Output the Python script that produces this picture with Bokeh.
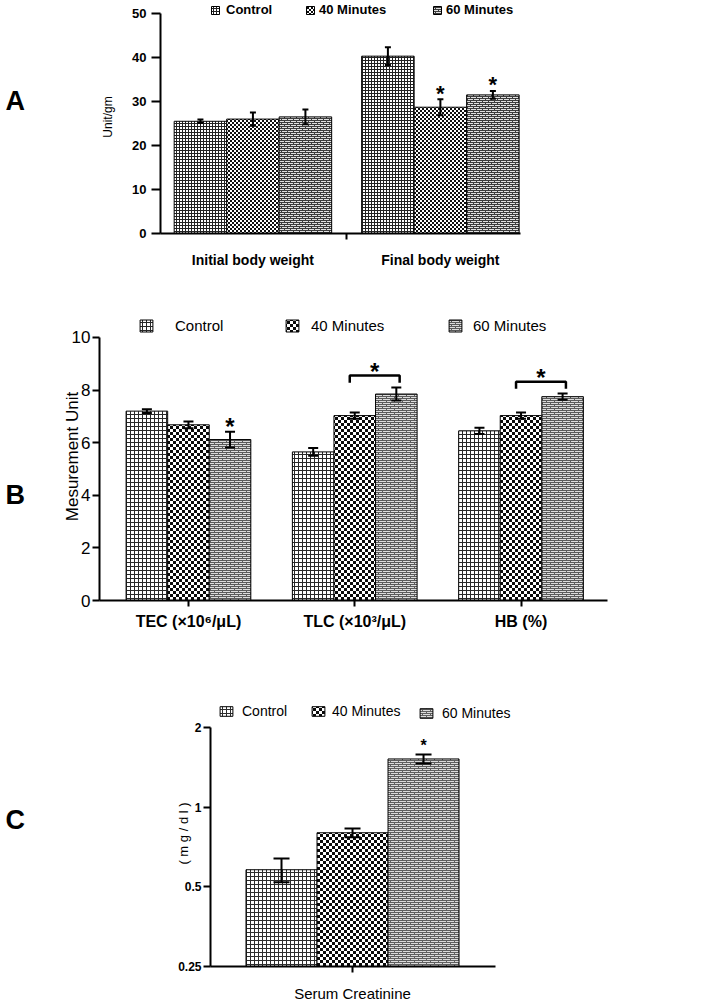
import base64, struct, zlib
from bokeh.plotting import figure
from bokeh.layouts import row
from bokeh.models import (ColumnDataSource, Whisker, Legend, LegendItem,
                          FixedTicker, ImageURLTexture, Range1d)
from bokeh.core.properties import value
from bokeh.embed import file_html
from bokeh.resources import INLINE

FONT = "Liberation Sans"
series = ["Control", "40 Minutes", "60 Minutes"]

# ---------------- data ----------------
# Panel A (Unit/gm)
a_groups = ["Initial body weight", "Final body weight"]
a_control = [25.5, 40.3]
a_control_err = [0.4, 2.0]
a_40 = [26.0, 28.7]
a_40_err = [1.5, 1.8]
a_60 = [26.5, 31.5]
a_60_err = [1.7, 0.9]
a_star_40 = [False, True]
a_star_60 = [False, True]
a_ticks = [0, 10, 20, 30, 40, 50]

# Panel B (Mesurement Unit)
b_groups = ["TEC (\u00d710\u2076/\u03bcL)", "TLC (\u00d710\u00b3/\u03bcL)", "HB (%)"]
b_control = [7.2, 5.65, 6.45]
b_control_err = [0.07, 0.15, 0.12]
b_40 = [6.68, 7.03, 7.03]
b_40_err = [0.13, 0.12, 0.12]
b_60 = [6.12, 7.85, 7.75]
b_60_err = [0.3, 0.25, 0.12]
b_star_60 = [True, False, False]
b_bracket = [False, True, True]
b_ticks = [0, 2, 4, 6, 8, 10]

# Panel C (mg/dl)
c_groups = ["Serum Creatinine"]
c_control = [0.58]
c_control_err = [0.06]
c_40 = [0.80]
c_40_err = [0.03]
c_60 = [1.52]
c_60_err = [0.06]
c_star_60 = [True]
c_ticks = [0.25, 0.5, 1, 2]


# ---------------- helpers ----------------
def texture(rows):
    h = len(rows)
    w = len(rows[0])
    raw = b"".join(b"\x00" + bytes(r) for r in rows)

    def chunk(tag, data):
        return (struct.pack(">I", len(data)) + tag + data +
                struct.pack(">I", zlib.crc32(tag + data) & 0xffffffff))

    png = (b"\x89PNG\r\n\x1a\n" +
           chunk(b"IHDR", struct.pack(">IIBBBBB", w, h, 8, 0, 0, 0, 0)) +
           chunk(b"IDAT", zlib.compress(raw)) + chunk(b"IEND", b""))
    return ImageURLTexture(url="data:image/png;base64," + base64.b64encode(png).decode(),
                           repetition="repeat")


def grid_tile(n, dark, light=255):
    return [[dark] * n] + [[dark] + [light] * (n - 1) for _ in range(n - 1)]


def checker_tile(c, dark=15, light=255):
    return [[dark if ((i // c) + (j // c)) % 2 == 0 else light for j in range(2 * c)]
            for i in range(2 * c)]


def brick_tile(w, dark, light):
    r0 = [dark] * w
    r1 = [dark] + [light] * (w - 1)
    r3 = [light] * w
    r3[w // 2] = dark
    return [r0, r1, r0, r3]


def add_bars(p, xs, tops, errs, bottom, width, tex, key, head, lw):
    src = ColumnDataSource(dict(
        x=xs, top=tops,
        upper=[t + e for t, e in zip(tops, errs)],
        lower=[t - e for t, e in zip(tops, errs)]))
    r = p.vbar(x="x", top="top", bottom=bottom, width=width, source=src,
               fill_color="white", line_color="black", line_width=1,
               hatch_pattern=value(key), hatch_extra={key: tex})
    w = Whisker(base="x", upper="upper", lower="lower", source=src, level="overlay",
                line_color="black", line_width=lw)
    for hd in (w.upper_head, w.lower_head):
        hd.size = head
        hd.line_width = lw
        hd.line_color = "black"
    p.add_layout(w)
    return r


def add_legend(p, r, label, vx, vy, gw, gh, lh, standoff, size, style):
    leg = Legend(items=[LegendItem(label=label, renderers=[r])], location=(vx, vy),
                 padding=0, margin=0, spacing=0, border_line_color=None,
                 background_fill_alpha=0, glyph_width=gw, glyph_height=gh,
                 label_standoff=standoff, label_height=lh, label_text_font=FONT,
                 label_text_font_size=size, label_text_font_style=style,
                 label_text_color="black", label_text_baseline="middle")
    p.add_layout(leg)


def style_fig(p):
    p.xgrid.visible = False
    p.ygrid.visible = False
    p.outline_line_color = None
    p.background_fill_color = "white"
    p.border_fill_color = "white"


def style_axes(p):
    for ax in (p.xaxis, p.yaxis):
        ax.axis_line_width = 2
        ax.axis_line_color = "black"
        ax.major_tick_line_width = 2
        ax.minor_tick_line_width = 2
        ax.major_tick_in = 0
        ax.minor_tick_in = 0
        ax.major_label_text_color = "black"
        ax.major_label_text_font = FONT
        ax.axis_label_text_font = FONT
        ax.axis_label_text_color = "black"


LW = 38  # width of the letter strip
MAIN_W = 662


def letter_fig(main, txt, y, log=False):
    lf = figure(width=LW, height=main.height, x_range=Range1d(0, LW), y_range=main.y_range,
                y_axis_type="log" if log else "linear",
                x_axis_location=None, y_axis_location=None,
                output_backend="svg", toolbar_location=None,
                min_border_left=0, min_border_right=0,
                min_border_top=main.min_border_top, min_border_bottom=main.min_border_bottom)
    style_fig(lf)
    lf.text(x=[5], y=[y], text=[txt], text_font=value(FONT), text_font_style="bold",
            text_font_size="27px", text_align="left", text_baseline="middle",
            text_color="black")
    return lf


# ---------------- Panel A ----------------
pA = figure(width=MAIN_W, height=270, x_range=Range1d(-0.493, 1.55),
            y_range=Range1d(0, 52.95), output_backend="svg", toolbar_location=None,
            min_border_left=122, min_border_right=157, min_border_top=0, min_border_bottom=37)
style_fig(pA)
style_axes(pA)
wA = 0.28
offs = [-wA, 0.0, wA]
texA = [texture(grid_tile(3, 35)), texture(checker_tile(2, 15)), texture(brick_tile(6, 60, 225))]
valsA = [(a_control, a_control_err), (a_40, a_40_err), (a_60, a_60_err)]
rA = []
for k, ((m, e), t, o) in enumerate(zip(valsA, texA, offs)):
    xs = [i + o for i in range(len(a_groups))]
    rA.append(add_bars(pA, xs, m, e, 0, wA, t, "a%d" % k, 6, 2))
for flags, (m, e), o in ((a_star_40, valsA[1], offs[1]), (a_star_60, valsA[2], offs[2])):
    sx = [i + o for i, f in enumerate(flags) if f]
    sy = [m[i] + e[i] + 1.4 for i, f in enumerate(flags) if f]
    pA.text(x=sx, y=sy, text=["*"] * len(sx), text_font=value(FONT), text_font_style="bold",
            text_font_size="22px", text_align="center", text_baseline="middle", text_color="black")
pA.yaxis.ticker = FixedTicker(ticks=a_ticks)
pA.yaxis.bounds = (a_ticks[0], a_ticks[-1])
pA.yaxis.axis_label = "Unit/gm"
pA.yaxis.axis_label_text_font_style = "normal"
pA.yaxis.axis_label_text_font_size = "12px"
pA.yaxis.axis_label_standoff = 14
pA.yaxis.major_label_text_font_style = "bold"
pA.yaxis.major_label_text_font_size = "13px"
pA.yaxis.major_label_standoff = 5
pA.yaxis.major_tick_out = 9
pA.yaxis.minor_tick_line_color = None
pA.xaxis.ticker = FixedTicker(ticks=list(range(len(a_groups))), minor_ticks=[0.5])
pA.xaxis.bounds = (-0.493, 1.427)
pA.xaxis.major_label_overrides = {i: g for i, g in enumerate(a_groups)}
pA.xaxis.major_tick_out = 0
pA.xaxis.minor_tick_out = 6
pA.xaxis.major_label_standoff = 12
pA.xaxis.major_label_text_font_style = "bold"
pA.xaxis.major_label_text_font_size = "14px"
add_legend(pA, rA[0], series[0], 50, 216, 10, 10, 14, 6, "13px", "bold")
add_legend(pA, rA[1], series[1], 145, 216, 10, 10, 14, 4, "13px", "bold")
add_legend(pA, rA[2], series[2], 272, 216, 10, 10, 14, 4, "13px", "bold")
lA = letter_fig(pA, "A", 30.0)

# ---------------- Panel B ----------------
pB = figure(width=MAIN_W, height=366, x_range=Range1d(-0.535, 2.52), y_range=Range1d(0, 10.95),
            output_backend="svg", toolbar_location=None,
            min_border_left=61, min_border_right=93, min_border_top=42, min_border_bottom=36)
style_fig(pB)
style_axes(pB)
wB = 0.25
offsB = [-wB, 0.0, wB]
texB = [texture(grid_tile(4, 40)), texture(checker_tile(3, 10)), texture(brick_tile(8, 90, 220))]
valsB = [(b_control, b_control_err), (b_40, b_40_err), (b_60, b_60_err)]
rB = []
for k, ((m, e), t, o) in enumerate(zip(valsB, texB, offsB)):
    xs = [i + o for i in range(len(b_groups))]
    rB.append(add_bars(pB, xs, m, e, 0, wB, t, "b%d" % k, 10, 2))
sx = [i + offsB[2] for i, f in enumerate(b_star_60) if f]
sy = [b_60[i] + b_60_err[i] + 0.2 for i, f in enumerate(b_star_60) if f]
bxs, bys = [], []
for i, f in enumerate(b_bracket):
    if f:
        yb = max(b_40[i] + b_40_err[i], b_60[i] + b_60_err[i]) + 0.45
        x0 = i + offsB[1] - 0.03
        x1 = i + offsB[2] + 0.02
        bxs.append([x0, x0, x1, x1])
        bys.append([yb - 0.27, yb, yb, yb - 0.27])
        sx.append((x0 + x1) / 2)
        sy.append(yb + 0.15)
pB.multi_line(xs=bxs, ys=bys, line_color="black", line_width=2.5)
pB.text(x=sx, y=sy, text=["*"] * len(sx), text_font=value(FONT), text_font_style="bold",
        text_font_size="24px", text_align="center", text_baseline="middle", text_color="black")
pB.yaxis.ticker = FixedTicker(ticks=b_ticks)
pB.yaxis.bounds = (b_ticks[0], b_ticks[-1])
pB.yaxis.axis_label = "Mesurement Unit"
pB.yaxis.axis_label_text_font_style = "normal"
pB.yaxis.axis_label_text_font_size = "17px"
pB.yaxis.axis_label_standoff = -13
pB.yaxis.major_label_text_font_size = "17px"
pB.yaxis.major_label_standoff = 2
pB.yaxis.major_tick_out = 7
pB.yaxis.minor_tick_line_color = None
pB.xaxis.ticker = FixedTicker(ticks=list(range(len(b_groups))))
pB.xaxis.major_label_overrides = {i: g for i, g in enumerate(b_groups)}
pB.xaxis.major_tick_out = 6
pB.xaxis.minor_tick_line_color = None
pB.xaxis.major_label_standoff = 6
pB.xaxis.major_label_text_font_style = "bold"
pB.xaxis.major_label_text_font_size = "16px"
add_legend(pB, rB[0], series[0], 39, 266, 16, 15, 18, 21, "15px", "normal")
add_legend(pB, rB[1], series[1], 185, 266, 16, 15, 18, 11, "15px", "normal")
add_legend(pB, rB[2], series[2], 348, 266, 16, 15, 18, 10, "15px", "normal")
lB = letter_fig(pB, "B", 4.03)

# ---------------- Panel C ----------------
pC = figure(width=MAIN_W, height=368, x_range=Range1d(-2.0, 2.45), y_range=Range1d(0.25, 2.527),
            y_axis_type="log", output_backend="svg", toolbar_location=None,
            min_border_left=172, min_border_right=174, min_border_top=64, min_border_bottom=36)
style_fig(pC)
style_axes(pC)
wC = 1.0
offsC = [-wC, 0.0, wC]
texC = [texture(grid_tile(4, 45)), texture(checker_tile(3, 10)), texture(brick_tile(8, 95, 220))]
valsC = [(c_control, c_control_err), (c_40, c_40_err), (c_60, c_60_err)]
rC = []
for k, ((m, e), t, o) in enumerate(zip(valsC, texC, offsC)):
    xs = [i + o for i in range(len(c_groups))]
    rC.append(add_bars(pC, xs, m, e, c_ticks[0], wC, t, "c%d" % k, 16, 2))
sx = [i + offsC[2] for i, f in enumerate(c_star_60) if f]
sy = [(c_60[i] + c_60_err[i]) * 1.08 for i, f in enumerate(c_star_60) if f]
pC.text(x=sx, y=sy, text=["*"] * len(sx), text_font=value(FONT), text_font_style="bold",
        text_font_size="16px", text_align="center", text_baseline="middle", text_color="black")
pC.yaxis.ticker = FixedTicker(ticks=c_ticks)
pC.yaxis.bounds = (c_ticks[0], c_ticks[-1])
pC.yaxis.major_label_overrides = {t: ("%g" % t) for t in c_ticks}
pC.yaxis.major_label_text_font_style = "bold"
pC.yaxis.major_label_text_font_size = "12px"
pC.yaxis.major_label_standoff = 2
pC.yaxis.major_tick_out = 7
pC.yaxis.minor_tick_line_color = None
pC.yaxis.axis_label = "( m g / d l )"
pC.yaxis.axis_label_text_font_style = "normal"
pC.yaxis.axis_label_text_font_size = "13px"
pC.yaxis.axis_label_standoff = -16
pC.xaxis.ticker = FixedTicker(ticks=list(range(len(c_groups))))
pC.xaxis.bounds = (-2.0, 2.01)
pC.xaxis.major_label_overrides = {i: g for i, g in enumerate(c_groups)}
pC.xaxis.major_tick_out = 6
pC.xaxis.minor_tick_line_color = None
pC.xaxis.major_label_standoff = 12
pC.xaxis.major_label_text_font_size = "15px"
add_legend(pC, rC[0], series[0], 8, 247, 16, 12, 16, 8, "14px", "normal")
add_legend(pC, rC[1], series[1], 100, 247, 16, 12, 16, 6, "14px", "normal")
add_legend(pC, rC[2], series[2], 208, 245, 16, 12, 16, 8, "14px", "normal")
lC = letter_fig(pC, "C", 0.894, log=True)

roots = [row(lA, pA, spacing=0), row(lB, pB, spacing=0), row(lC, pC, spacing=0)]
open("out.html", "w").write(file_html(roots, INLINE))
